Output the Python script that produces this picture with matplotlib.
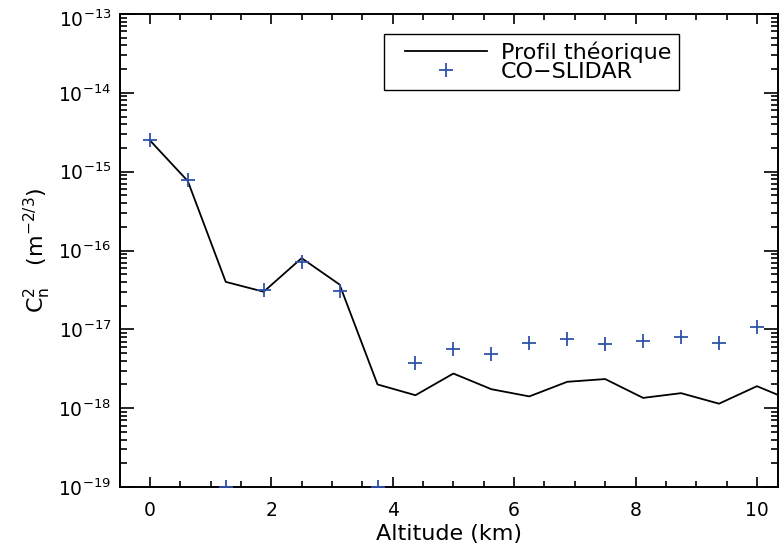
import matplotlib
matplotlib.use("Agg")
import matplotlib.pyplot as plt
from matplotlib.ticker import FixedLocator, MultipleLocator, FuncFormatter, NullFormatter
import numpy as np

# --- data ---
alt_theory = [0.0, 0.625, 1.25, 1.875, 2.5, 3.125, 3.75, 4.375, 5.0, 5.625,
              6.25, 6.875, 7.5, 8.125, 8.75, 9.375, 10.0, 10.625]
cn2_theory = [2.5e-15, 7.6e-16, 4.0e-17, 3.0e-17, 8.0e-17, 3.7e-17, 2.0e-18, 1.46e-18,
              2.75e-18, 1.74e-18, 1.41e-18, 2.16e-18, 2.34e-18, 1.35e-18, 1.55e-18,
              1.14e-18, 1.9e-18, 1.2e-18]
alt_meas = [0.0, 0.625, 1.25, 1.875, 2.5, 3.125, 3.75, 4.375, 5.0, 5.625,
            6.25, 6.875, 7.5, 8.125, 8.75, 9.375, 10.0]
cn2_meas = [2.5e-15, 7.9e-16, 1.0e-19, 3.2e-17, 7.2e-17, 3.1e-17, 1.0e-19, 3.76e-18,
            5.56e-18, 4.84e-18, 6.68e-18, 7.65e-18, 6.6e-18, 7.1e-18, 7.9e-18,
            6.7e-18, 1.07e-17]
label_theory = "Profil théorique"
label_meas = "CO\u2212SLIDAR"
decades = [-19, -18, -17, -16, -15, -14, -13]

plt.rcParams['font.family'] = ['DejaVu Sans']
plt.rcParams['mathtext.fontset'] = 'dejavusans'

W, H = 779, 556
fig = plt.figure(figsize=(W / 100, H / 100), dpi=100)
ax = fig.add_axes([119.5 / W, 1 - 487 / H, (778.5 - 119.5) / W, (487 - 14) / H])

ax.plot(alt_theory, cn2_theory, color='black', lw=1.3, label=label_theory)
ax.plot(alt_meas, cn2_meas, linestyle='none', marker='+', markersize=10,
        mew=1.3, color='#2f52a8', label=label_meas, zorder=3)

ymin, ymax = 10.0 ** decades[0], 10.0 ** decades[-1]
ax.set_yscale('log')
ax.set_ylim(ymin, ymax)
ax.set_xlim(-0.5, 10.355)

major_y = [10.0 ** d for d in decades]
minor_y = [m * 10.0 ** d for d in decades[:-1] for m in range(2, 10)]

def fmt(v, p):
    e = int(round(np.log10(v)))
    if e == decades[-1]:
        return ''
    return r'$10^{%d}$' % e

ax.xaxis.set_major_locator(MultipleLocator(2))
ax.xaxis.set_minor_locator(MultipleLocator(0.5))
ax.yaxis.set_major_locator(FixedLocator(major_y))
ax.yaxis.set_minor_locator(FixedLocator(minor_y))
ax.yaxis.set_minor_formatter(NullFormatter())
ax.yaxis.set_major_formatter(FuncFormatter(fmt))

ax.tick_params(axis='both', which='both', direction='in', top=True, right=True,
               labelsize=13.5, width=1.2, color='black', labelcolor='black')
ax.tick_params(axis='x', which='major', length=7, pad=10)
ax.tick_params(axis='x', which='minor', length=4)
ax.tick_params(axis='y', which='major', length=10, pad=6)
ax.tick_params(axis='y', which='minor', length=5)
for s in ax.spines.values():
    s.set_linewidth(1.4)

# top label shifted down so that it stays inside the figure (as in the original)
ax.annotate(r'$10^{%d}$' % decades[-1], xy=(0, ymax),
            xycoords=ax.get_yaxis_transform(), xytext=(-6, -4.5),
            textcoords='offset points', ha='right', va='center', fontsize=13.5)

ax.set_xlabel('Altitude (km)', fontsize=16, labelpad=3)
ax.set_ylabel(r'$\mathregular{C_n^2}$   $\mathregular{(m^{-2/3})}$', fontsize=16, labelpad=4)

leg = ax.legend(loc='upper left', bbox_to_anchor=(384 / W, 1 - 34 / H),
                bbox_transform=fig.transFigure, fontsize=16, frameon=True,
                fancybox=False, edgecolor='black', framealpha=1,
                handlelength=4.28, handletextpad=0.63, borderpad=0.35,
                labelspacing=-0.05, borderaxespad=0)
leg.get_frame().set_linewidth(1.0)

# shorten the legend line sample on its left side, as in the original
shift_pt = 13 * 72 / 100.0
for ln in leg.get_lines():
    xd = np.asarray(ln.get_xdata(), dtype=float).copy()
    if ln.get_linestyle() not in ('None', 'none', ''):
        xd[0] += shift_pt
    else:
        xd += shift_pt / 2
    ln.set_xdata(xd)

fig.savefig('out.png', dpi=100)
